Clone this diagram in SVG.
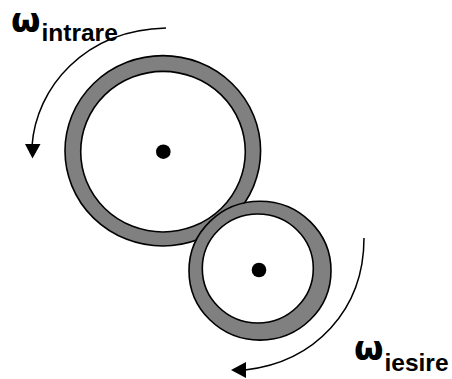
<svg xmlns="http://www.w3.org/2000/svg" width="452" height="379" viewBox="0 0 452 379">
<style>
.ring{fill:#808080;stroke:#000;stroke-width:1.6}
.hole{fill:#fff;stroke:#000;stroke-width:1.6}
.arc{fill:none;stroke:#000;stroke-width:1.5}
.t{font-weight:700;fill:#000}
.w{font-family:"DejaVu Sans",sans-serif;font-size:34px}
.s{font-family:"Liberation Sans",Arial,sans-serif;font-size:24.500px}
</style>
<g id="gear-large">
<ellipse class="ring" cx="162.800" cy="150.800" rx="97.800" ry="95.200"/>
<ellipse class="hole" cx="163" cy="151.700" rx="82.300" ry="80.300"/>
<circle cx="163.300" cy="151.700" r="7.300"/>
</g>
<g id="gear-small">
<ellipse class="ring" cx="260" cy="270.700" rx="71" ry="69.400"/>
<ellipse class="hole" cx="257.800" cy="268.500" rx="55.500" ry="54.500"/>
<circle cx="259" cy="270" r="7.300"/>
</g>
<g id="connectors">
<path class="arc" d="M166 28C84 30 36 88 32 146"/>
<path d="M25 144H40.500L32.500 158.500Z"/>
<path class="arc" d="M364 238C364 310 315 362 245 370"/>
<path d="M246 362L231 370L246 378Z"/>
</g>
<g id="label-intrare"><text class="t w" x="11" y="32">ω</text><text class="t s" x="41.500" y="41">intrare</text></g>
<g id="label-iesire"><text class="t w" x="354" y="360">ω</text><text class="t s" x="384.500" y="370.500">iesire</text></g>
</svg>
